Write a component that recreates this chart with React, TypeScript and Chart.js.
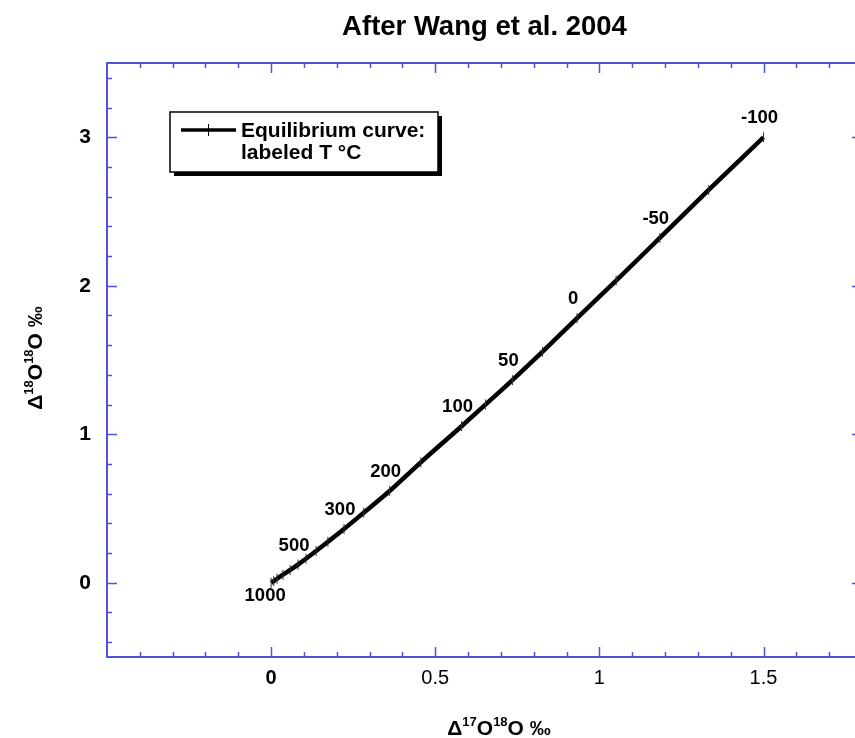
import React, { useEffect, useRef } from 'react';
import { Chart, registerables } from 'chart.js';

Chart.register(...registerables);

// ---- Data ----
const temperatures = [1000, 900, 800, 700, 600, 500, 450, 400, 350, 300, 250, 200, 150, 100, 75, 50, 25, 0, -25, -50, -75, -100];
const delta17 = [0, 0.008, 0.018, 0.036, 0.058, 0.082, 0.106, 0.137, 0.173, 0.222, 0.282, 0.361, 0.456, 0.58, 0.653, 0.735, 0.827, 0.932, 1.051, 1.184, 1.333, 1.5];
const delta18 = [0, 0.011, 0.027, 0.054, 0.086, 0.122, 0.162, 0.214, 0.276, 0.362, 0.472, 0.618, 0.811, 1.054, 1.2, 1.365, 1.556, 1.782, 2.035, 2.322, 2.645, 3.0];
const labeledTemps = [1000, 500, 300, 200, 100, 50, 0, -50, -100];
const xTickValues = [0, 0.5, 1, 1.5];
const yTickValues = [0, 1, 2, 3];
const titleText = 'After Wang et al. 2004';
const legendLines = ['Equilibrium curve:', 'labeled T °C'];

const FONT = "'Liberation Sans', Arial, Helvetica, sans-serif";
const AXIS_BLUE = '#5252e0';

function drawSupText(ctx: CanvasRenderingContext2D, parts: { t: string; sup?: boolean }[], mainSize: number, supSize: number) {
  let total = 0;
  const widths = parts.map((p) => {
    ctx.font = `bold ${p.sup ? supSize : mainSize}px ${FONT}`;
    const w = ctx.measureText(p.t).width;
    total += w;
    return w;
  });
  let x = -total / 2;
  parts.forEach((p, i) => {
    ctx.font = `bold ${p.sup ? supSize : mainSize}px ${FONT}`;
    ctx.fillText(p.t, x, p.sup ? -mainSize * 0.42 : 0);
    x += widths[i];
  });
}

const axisTitleParts = (a: string, b: string) => [
  { t: 'Δ' },
  { t: a, sup: true },
  { t: 'O' },
  { t: b, sup: true },
  { t: 'O ‰' },
];

const decorPlugin = {
  id: 'decor',
  afterDatasetsDraw(chart: any) {
    const ctx: CanvasRenderingContext2D = chart.ctx;
    const meta = chart.getDatasetMeta(0);
    ctx.save();
    ctx.fillStyle = '#000';
    ctx.font = `bold 18.5px ${FONT}`;
    ctx.textAlign = 'center';
    ctx.textBaseline = 'middle';
    temperatures.forEach((t, i) => {
      if (!labeledTemps.includes(t)) return;
      const pt = meta.data[i];
      if (t === 1000) ctx.fillText(String(t), pt.x - 6, pt.y + 13);
      else ctx.fillText(String(t), pt.x - 4, pt.y - 19);
    });
    ctx.restore();
  },
  afterDraw(chart: any) {
    const ctx: CanvasRenderingContext2D = chart.ctx;
    const { left, right, top, bottom } = chart.chartArea;
    const xs = chart.scales.x;
    const ys = chart.scales.y;
    ctx.save();
    // frame
    ctx.strokeStyle = AXIS_BLUE;
    ctx.lineWidth = 2;
    ctx.strokeRect(left, top, right - left, bottom - top);
    // x ticks every 0.1, major every 0.5
    ctx.lineWidth = 1.5;
    for (let k = -4; k <= 17; k++) {
      const px = Math.round(xs.getPixelForValue(k / 10)) + 0.5;
      const len = k % 5 === 0 ? 10 : 5;
      ctx.beginPath();
      ctx.moveTo(px, bottom);
      ctx.lineTo(px, bottom - len);
      ctx.moveTo(px, top);
      ctx.lineTo(px, top + len);
      ctx.stroke();
    }
    // y ticks every 0.2, major every 1
    for (let k = -4; k <= 34; k += 2) {
      const py = Math.round(ys.getPixelForValue(k / 10)) + 0.5;
      const len = k % 10 === 0 ? 10 : 5;
      ctx.beginPath();
      ctx.moveTo(left, py);
      ctx.lineTo(left + len, py);
      ctx.moveTo(right, py);
      ctx.lineTo(right - len, py);
      ctx.stroke();
    }

    // axis titles
    ctx.fillStyle = '#000';
    ctx.textAlign = 'left';
    ctx.textBaseline = 'alphabetic';
    ctx.save();
    ctx.translate(499, 735);
    drawSupText(ctx, axisTitleParts('17', '18'), 21, 13);
    ctx.restore();
    ctx.save();
    ctx.translate(42, 358);
    ctx.rotate(-Math.PI / 2);
    drawSupText(ctx, axisTitleParts('18', '18'), 21, 13);
    ctx.restore();

    // legend box
    const bx = 170, by = 112, bw = 268, bh = 60;
    ctx.fillStyle = '#000';
    ctx.fillRect(bx + 4, by + 4, bw, bh);
    ctx.fillStyle = '#fff';
    ctx.fillRect(bx, by, bw, bh);
    ctx.strokeStyle = '#000';
    ctx.lineWidth = 1.5;
    ctx.strokeRect(bx, by, bw, bh);
    ctx.lineWidth = 3.5;
    ctx.beginPath();
    ctx.moveTo(181, 130);
    ctx.lineTo(236, 130);
    ctx.stroke();
    ctx.lineWidth = 1;
    ctx.beginPath();
    ctx.moveTo(208.5, 124);
    ctx.lineTo(208.5, 136);
    ctx.stroke();
    ctx.fillStyle = '#000';
    ctx.font = `bold 21px ${FONT}`;
    ctx.textBaseline = 'middle';
    ctx.fillText(legendLines[0], 241, 131);
    ctx.fillText(legendLines[1], 241, 153);
    ctx.restore();
  },
};

export default function App() {
  const canvasRef = useRef<HTMLCanvasElement | null>(null);

  useEffect(() => {
    const canvas = canvasRef.current;
    if (!canvas) return;
    const chart = new Chart(canvas, {
      type: 'scatter',
      data: {
        datasets: [
          {
            label: 'Equilibrium curve: labeled T °C',
            data: delta17.map((x, i) => ({ x, y: delta18[i] })),
            showLine: true,
            cubicInterpolationMode: 'monotone',
            borderColor: '#000',
            backgroundColor: '#000',
            borderWidth: 4.5,
            pointStyle: 'line',
            rotation: 90,
            pointRadius: 5,
            pointBorderWidth: 1,
            pointBorderColor: '#333',
            pointHoverRadius: 5,
          } as any,
        ],
      },
      options: {
        animation: false,
        responsive: false,
        devicePixelRatio: 1,
        layout: { padding: { left: 0, right: 8, top: 0, bottom: 0 } },
        plugins: {
          legend: { display: false },
          tooltip: { enabled: false },
          title: {
            display: true,
            text: titleText,
            fullSize: false,
            color: '#000',
            font: { family: FONT, size: 27.5, weight: 'bold' },
            padding: { top: 11, bottom: 19 },
          },
        },
        scales: {
          x: {
            type: 'linear',
            min: -0.5,
            max: 1.8,
            grid: { display: false, drawTicks: false },
            border: { display: false },
            afterBuildTicks: (scale: any) => {
              scale.ticks = xTickValues.map((v) => ({ value: v }));
            },
            afterFit: (scale: any) => {
              scale.height = 81;
            },
            ticks: {
              color: '#000',
              padding: 9,
              maxRotation: 0,
              autoSkip: false,
              callback: (v: any) => String(v),
              font: (c: any) => ({
                family: FONT,
                size: 20,
                weight: c.tick && c.tick.value === 0 ? 'bold' : 'normal',
              }),
            },
          },
          y: {
            type: 'linear',
            min: -0.5,
            max: 3.5,
            grid: { display: false, drawTicks: false },
            border: { display: false },
            afterBuildTicks: (scale: any) => {
              scale.ticks = yTickValues.map((v) => ({ value: v }));
            },
            afterFit: (scale: any) => {
              scale.width = 107;
            },
            ticks: {
              color: '#000',
              padding: 16,
              autoSkip: false,
              callback: (v: any) => String(v),
              font: { family: FONT, size: 21, weight: 'bold' },
            },
          },
        },
      },
      plugins: [decorPlugin],
    });
    return () => chart.destroy();
  }, []);

  return (
    <div
      style={{
        position: 'fixed',
        left: 0,
        top: 0,
        width: 855,
        height: 738,
        overflow: 'hidden',
        background: '#fff',
      }}
    >
      <canvas ref={canvasRef} width={870} height={738} style={{ width: 870, height: 738, display: 'block' }} />
    </div>
  );
}
